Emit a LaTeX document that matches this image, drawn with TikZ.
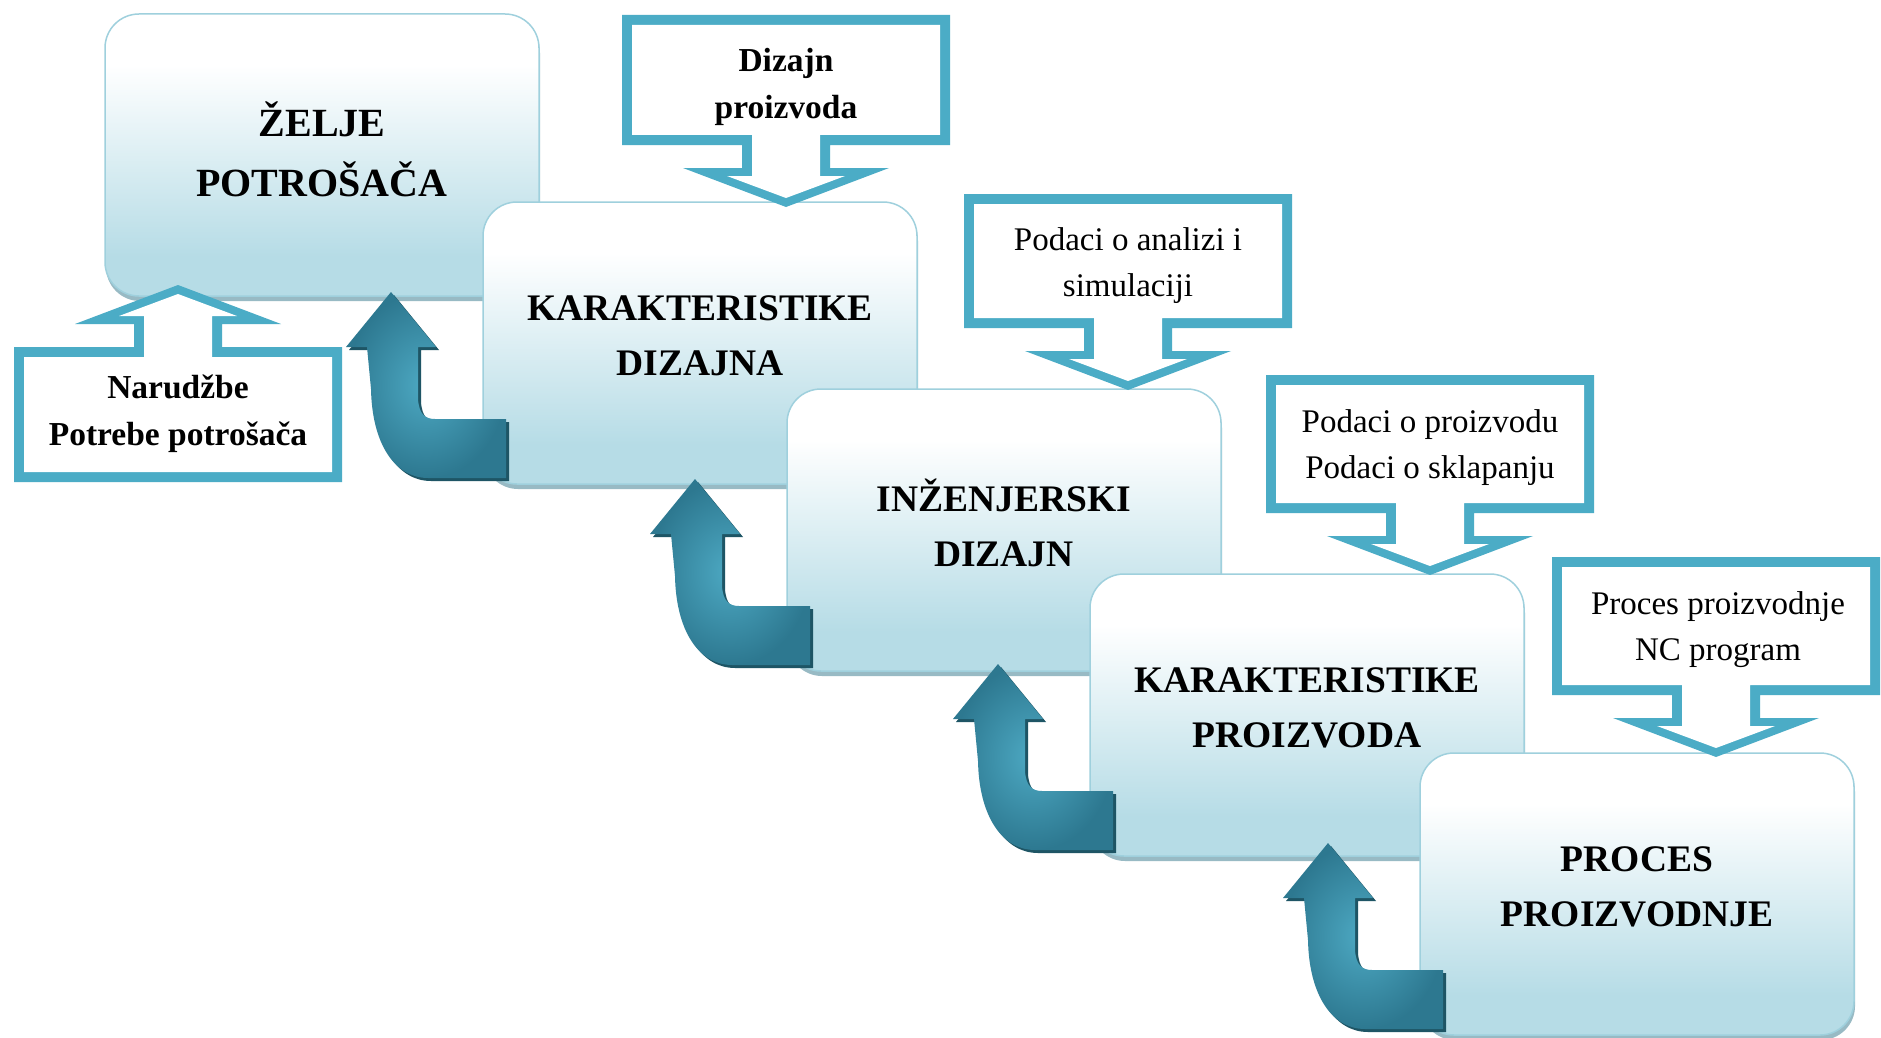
\documentclass[tikz,border=0pt]{standalone}
\usepackage{fontspec}
\setmainfont{Liberation Serif}
\usetikzlibrary{shadows,calc}
\definecolor{cblue}{HTML}{4BACC6}
\definecolor{boxblue}{HTML}{B6DCE6}
\definecolor{boxline}{HTML}{9FD0DD}
\definecolor{boxshadow}{HTML}{8DB3BE}
\definecolor{arrdark}{HTML}{2D7890}
\definecolor{arrlight}{HTML}{4DA9C3}
\definecolor{arrshadow}{HTML}{1E5565}
\pgfdeclareverticalshading{boxshade}{100bp}{color(0bp)=(boxblue); color(25bp)=(boxblue); color(32bp)=(boxblue); color(66bp)=(white); color(100bp)=(white)}
\tikzset{
 stagebox/.style={draw=boxline, line width=1.5pt, rounded corners=34pt, shading=boxshade,
   minimum width=434pt, minimum height=282pt, inner sep=0pt, outer sep=0pt,
   drop shadow={shadow xshift=1pt, shadow yshift=-5pt, fill=boxshadow, opacity=0.9}},
 bigtext/.style={font=\fontsize{40}{60}\selectfont\bfseries, align=center},
 stagetext/.style={font=\fontsize{37.5}{55}\selectfont\bfseries, align=center},
 notetext/.style={font=\fontsize{33}{46}\selectfont, align=center},
 notebold/.style={font=\fontsize{33.5}{47}\selectfont\bfseries, align=center},
 arrowbody/.style={inner color=arrlight, outer color=arrdark,
   drop shadow={shadow xshift=3pt, shadow yshift=-3pt, fill=arrshadow, opacity=1}},
}
% #1 = centre x, #2 = edge of the rectangle next to the arrow, #3 = rectangle height, #4 = 1 (down) or -1 (up)
\newcommand\calloutshape[4]{%
 \begin{scope}[shift={(#1,#2)}, yscale=#4]
  \fill[cblue] (-164,-#3) -- (164,-#3) -- (164,0) -- (44,0) -- (44,23) -- (103,23) -- (0,62)
     -- (-103,23) -- (-44,23) -- (-44,0) -- (-164,0) -- cycle;
  \fill[white] (-154,-#3+10) -- (154,-#3+10) -- (154,-10) -- (34,-10) -- (34,31) -- (59,31)
     -- (0,53) -- (-59,31) -- (-34,31) -- (-34,-10) -- (-154,-10) -- cycle;
 \end{scope}}
\newcommand\bentarrow[1]{%
 \begin{scope}[shift={(#1.south west)}]
  \path[arrowbody] (-92,-192) -- (-47,-137) -- (-65,-137) -- (-65,-85)
    .. controls (-64,-70) and (-58,-65) .. (-48,-65) -- (23,-65) -- (23,-6) -- (-55,-6)
    .. controls (-88,-6) and (-111,-40) .. (-112,-95) -- (-116,-137) -- (-137,-137) -- cycle;
 \end{scope}}
\begin{document}
\begin{tikzpicture}[x=1pt, y=-1pt]
\useasboundingbox[fill=white] (0,0) rectangle (1881,1038);
% stage boxes
\node[stagebox] (b1) at (322,155) {};
\node[stagebox] (b2) at (700,343) {};
\node[stagebox] (b3) at (1004,530) {};
\node[stagebox] (b4) at (1307,715) {};
\node[stagebox] (b5) at (1637,894) {};
\node[bigtext] (t1) at ([yshift=6pt]b1.center) {ŽELJE\\POTROŠAČA};
\node[stagetext] (t2) at ([yshift=7pt]b2.center) {KARAKTERISTIKE\\DIZAJNA};
\node[stagetext] (t3) at ([yshift=7pt]b3.center) {INŽENJERSKI\\DIZAJN};
\node[stagetext] (t4) at ([yshift=7pt]b4.center) {KARAKTERISTIKE\\PROIZVODA};
\node[stagetext] (t5) at ([yshift=7pt]b5.center) {PROCES\\PROIZVODNJE};
% callouts
\calloutshape{786}{145}{130}{1}
\calloutshape{1128}{328}{134}{1}
\calloutshape{1430}{513}{138}{1}
\calloutshape{1716}{695}{138}{1}
\calloutshape{178}{347}{135}{-1}
\node[notebold] (cA) at (786,87) {Dizajn\\proizvoda};
\node[notetext] (cB) at (1128,266) {Podaci o analizi i\\simulaciji};
\node[notetext] (cC) at (1430,448) {Podaci o proizvodu\\Podaci o sklapanju};
\node[notetext] (cD) at (1718,630) {Proces proizvodnje\\NC program};
\node[notebold] (cN) at (178,414) {Narudžbe\\Potrebe potrošača};
% bent arrows
\bentarrow{b2}
\bentarrow{b3}
\bentarrow{b4}
\bentarrow{b5}
\end{tikzpicture}
\end{document}
